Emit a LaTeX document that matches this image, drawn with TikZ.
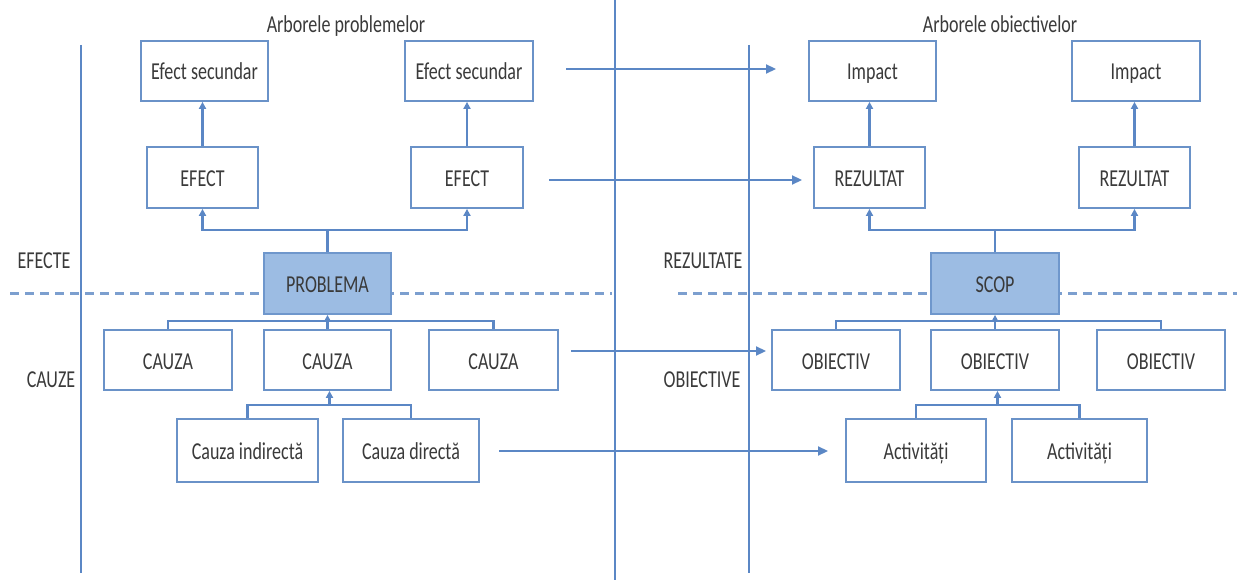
\documentclass[tikz,border=0pt]{standalone}
\usepackage{fontspec}
\usepackage{graphicx}
\setmainfont{Carlito}
\usetikzlibrary{arrows.meta,calc}
\definecolor{boxblue}{HTML}{6A92C8}
\definecolor{lineblue}{HTML}{5B87C5}
\definecolor{dashblue}{HTML}{7C9FCF}
\definecolor{probfill}{HTML}{9CBCE3}
\definecolor{probdraw}{HTML}{6F97CC}
\definecolor{txt}{HTML}{3A3A3A}
\newcommand{\tx}[1]{\scalebox{1}[1.35]{#1}}
\begin{document}
\begin{tikzpicture}[x=1pt,y=-1pt,
  every node/.style={font=\fontsize{18}{20}\selectfont, text=txt, inner sep=0pt, text height=22pt, text depth=4pt},
  bx/.style={draw=boxblue, line width=1.8pt, fill=white, minimum height=60pt},
  hl/.style={draw=probdraw, line width=1.8pt, fill=probfill, minimum height=61pt},
  conn/.style={draw=lineblue, line width=2.2pt},
  tri/.style={-{Triangle[length=7pt,width=7pt]}},
  bigtri/.style={-{Triangle[length=10pt,width=9pt]}},
  sep/.style={draw=lineblue, line width=1.8pt},
  dsh/.style={draw=dashblue, line width=3pt, dash pattern=on 9pt off 6pt}]
\useasboundingbox (0,0) rectangle (1237,580);
% separators
\draw[sep] (81,45) -- (81,573);
\draw[sep] (615,0) -- (615,580);
\draw[sep] (749,45) -- (749,573);
\draw[dsh] (10,293) -- (612,293);
\draw[dsh] (678,293) -- (1237,293);
% titles and labels
\node (t1) at (346,24) {\tx{Arborele problemelor}};
\node (t2) at (1000,24) {\tx{Arborele obiectivelor}};
\node (l1) at (44,260) {\tx{EFECTE}};
\node (l2) at (51,378) {\tx{CAUZE}};
\node (l3) at (703,260) {\tx{REZULTATE}};
\node (l4) at (702,378) {\tx{OBIECTIVE}};
% problem tree
\node[bx, minimum width=127pt] (es1) at (204.5,71) {\tx{Efect secundar}};
\node[bx, minimum width=128pt] (es2) at (469,71) {\tx{Efect secundar}};
\node[bx, minimum width=111pt, minimum height=61pt] (ef1) at (202.5,177.5) {\tx{EFECT}};
\node[bx, minimum width=112pt, minimum height=61pt] (ef2) at (467,177.5) {\tx{EFECT}};
\node[hl, minimum width=127pt] (prob) at (327.5,283.5) {\tx{PROBLEMA}};
\node[bx, minimum width=128pt] (c1) at (168,360) {\tx{CAUZA}};
\node[bx, minimum width=127pt] (c2) at (327.5,360) {\tx{CAUZA}};
\node[bx, minimum width=129pt] (c3) at (493.5,360) {\tx{CAUZA}};
\node[bx, minimum width=141pt, minimum height=63pt] (ci) at (247.5,450.5) {\tx{Cauza indirectă}};
\node[bx, minimum width=136pt, minimum height=63pt] (cd) at (411,450.5) {\tx{Cauza directă}};
% objective tree
\node[bx, minimum width=127pt] (im1) at (872.5,71) {\tx{Impact}};
\node[bx, minimum width=128pt] (im2) at (1136,71) {\tx{Impact}};
\node[bx, minimum width=111pt, minimum height=61pt] (r1) at (869.5,177.5) {\tx{REZULTAT}};
\node[bx, minimum width=111pt, minimum height=61pt] (r2) at (1134.5,177.5) {\tx{REZULTAT}};
\node[hl, minimum width=128pt] (scop) at (995,283.5) {\tx{SCOP}};
\node[bx, minimum width=128pt] (o1) at (836,360) {\tx{OBIECTIV}};
\node[bx, minimum width=128pt] (o2) at (995,360) {\tx{OBIECTIV}};
\node[bx, minimum width=128pt] (o3) at (1161,360) {\tx{OBIECTIV}};
\node[bx, minimum width=140pt, minimum height=63pt] (a1) at (916,450.5) {\tx{Activități}};
\node[bx, minimum width=135pt, minimum height=63pt] (a2) at (1079.5,450.5) {\tx{Activități}};
% problem tree connectors
\draw[conn,tri] (ef1.north) -- (es1.south -| ef1.north);
\draw[conn,tri] (ef2.north) -- (es2.south -| ef2.north);
\coordinate (bp) at (327.5,230);
\draw[conn] (prob.north) -- (bp);
\draw[conn,tri] (bp) -| (ef1.south);
\draw[conn,tri] (bp) -| (ef2.south);
\draw[conn] (c1.north) -- ++(0,-8) -| (c3.north);
\draw[conn,tri] (c2.north) -- (prob.south);
\draw[conn] (ci.north) -- ++(0,-13) -| (cd.north);
\coordinate (bc) at (329.5,406);
\draw[conn,tri] (bc) -- (c2.south -| bc);
% objective tree connectors
\draw[conn,tri] (r1.north) -- (im1.south -| r1.north);
\draw[conn,tri] (r2.north) -- (im2.south -| r2.north);
\coordinate (bs) at (995,230);
\draw[conn] (scop.north) -- (bs);
\draw[conn,tri] (bs) -| (r1.south);
\draw[conn,tri] (bs) -| (r2.south);
\draw[conn] (o1.north) -- ++(0,-8) -| (o3.north);
\draw[conn,tri] (o2.north) -- (scop.south);
\draw[conn] (a1.north) -- ++(0,-13) -| (a2.north);
\coordinate (bo) at (997.5,406);
\draw[conn,tri] (bo) -- (o2.south -| bo);
% cross arrows
\coordinate (s1) at (566,69);   \coordinate (e1) at (776,69);
\coordinate (s2) at (549,180);  \coordinate (e2) at (802,180);
\coordinate (s3) at (571,351);  \coordinate (e3) at (766,351);
\coordinate (s4) at (499,451);  \coordinate (e4) at (828,451);
\draw[conn,bigtri] (s1) -- (e1);
\draw[conn,bigtri] (s2) -- (e2);
\draw[conn,bigtri] (s3) -- (e3);
\draw[conn,bigtri] (s4) -- (e4);
\end{tikzpicture}
\end{document}
